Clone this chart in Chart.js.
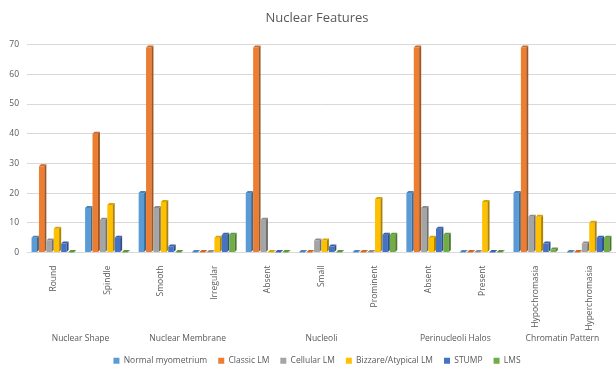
<!DOCTYPE html>
<html>
<head>
<meta charset="utf-8">
<script src="https://cdn.jsdelivr.net/npm/chart.js@4/dist/chart.umd.min.js"></script>
<style>
  html, body { margin: 0; padding: 0; background: #fff; }
  #wrap { width: 616px; height: 369px; }
</style>
</head>
<body>
<div id="wrap"><canvas id="nuclearChart"></canvas></div>
<script>
// Nuclear Features - grouped bars, Excel 3D column look

const categories = ["Round", "Spindle", "Smooth", "Irregular", "Absent", "Small",
  "Prominent", "Absent", "Present", "Hypochromasia", "Hyperchromasia"];
const groupNames = ["Nuclear Shape", "Nuclear Membrane", "Nucleoli", "Perinucleoli Halos", "Chromatin Pattern"];
const groupSizes = [2, 2, 3, 2, 2];

const normalMyometrium = [5, 15, 20, 0, 20, 0, 0, 20, 0, 20, 0];
const classicLM        = [29, 40, 69, 0, 69, 0, 0, 69, 0, 69, 0];
const cellularLM       = [4, 11, 15, 0, 11, 4, 0, 15, 0, 12, 3];
const bizarreLM        = [8, 16, 17, 5, 0, 4, 18, 5, 17, 12, 10];
const stump            = [3, 5, 2, 6, 0, 2, 6, 8, 0, 3, 5];
const lms              = [0, 0, 0, 6, 0, 0, 6, 6, 0, 1, 5];

const seriesNames = ["Normal myometrium", "Classic LM", "Cellular LM", "Bizzare/Atypical LM", "STUMP", "LMS"];
const seriesData = [normalMyometrium, classicLM, cellularLM, bizarreLM, stump, lms];
const colors = ["#5B9BD5", "#ED7D31", "#A5A5A5", "#FFC000", "#4472C4", "#70AD47"];

const textGray = "#595959";
const fontFamily = "'Open Sans', 'DejaVu Sans', sans-serif";

function shade(hex, f) {
  const n = parseInt(hex.slice(1), 16);
  const r = Math.round(((n >> 16) & 255) * f);
  const g = Math.round(((n >> 8) & 255) * f);
  const b = Math.round((n & 255) * f);
  return `rgb(${r},${g},${b})`;
}

// draws bars with a small side and top face, category by category
const bars3d = {
  id: "bars3d",
  beforeDatasetsDraw(chart) {
    const ctx = chart.ctx;
    const dep = 2;
    ctx.save();
    for (let i = 0; i < categories.length; i++) {
      chart.data.datasets.forEach((ds, d) => {
        const el = chart.getDatasetMeta(d).data[i];
        if (!el) return;
        const p = el.getProps(["x", "y", "base", "width"], true);
        const left = p.x - p.width / 2;
        const fw = p.width - dep;
        const top = Math.min(p.y, p.base - 0.5);
        // front
        ctx.fillStyle = ds.backgroundColor;
        ctx.fillRect(left, top, fw, p.base - top);
        // side
        ctx.fillStyle = shade(ds.backgroundColor, 0.68);
        ctx.beginPath();
        ctx.moveTo(left + fw, top);
        ctx.lineTo(left + fw + dep, top - dep);
        ctx.lineTo(left + fw + dep, p.base - dep);
        ctx.lineTo(left + fw, p.base);
        ctx.closePath();
        ctx.fill();
        // top
        ctx.fillStyle = shade(ds.backgroundColor, 0.85);
        ctx.beginPath();
        ctx.moveTo(left, top);
        ctx.lineTo(left + dep, top - dep);
        ctx.lineTo(left + fw + dep, top - dep);
        ctx.lineTo(left + fw, top);
        ctx.closePath();
        ctx.fill();
      });
    }
    ctx.restore();
    return false;
  }
};

// group labels under the rotated category labels
const groupLabels = {
  id: "groupLabels",
  afterDraw(chart) {
    const xs = chart.scales.x;
    const ctx = chart.ctx;
    ctx.save();
    ctx.font = "8.5px " + fontFamily;
    ctx.fillStyle = textGray;
    ctx.textAlign = "center";
    ctx.textBaseline = "middle";
    let start = 0;
    groupNames.forEach((name, g) => {
      const end = start + groupSizes[g] - 1;
      const cx = (xs.getPixelForValue(start) + xs.getPixelForValue(end)) / 2;
      ctx.fillText(name, cx, xs.bottom - 7);
      start = end + 1;
    });
    ctx.restore();
  }
};

// title and legend sit centred over the plot, not the canvas
const centreOnPlot = {
  id: "centreOnPlot",
  afterLayout(chart) {
    const shift = 9;
    [chart.titleBlock, chart.legend].forEach(box => {
      if (!box) return;
      box.left += shift;
      box.right += shift;
    });
  }
};

const ctx = document.getElementById("nuclearChart").getContext("2d");

new Chart(ctx, {
  type: "bar",
  data: {
    labels: categories,
    datasets: seriesData.map((vals, k) => ({
      label: seriesNames[k],
      data: vals,
      backgroundColor: colors[k],
      borderWidth: 0,
      categoryPercentage: 0.83,
      barPercentage: 1
    }))
  },
  options: {
    responsive: true,
    maintainAspectRatio: false,
    animation: false,
    layout: { padding: { top: 2, left: 0, right: 0, bottom: -6 } },
    plugins: {
      title: {
        display: true,
        text: "Nuclear Features",
        color: textGray,
        font: { family: fontFamily, size: 13, weight: "normal" },
        padding: { top: 8, bottom: 19 }
      },
      legend: {
        position: "bottom",
        labels: {
          color: textGray,
          font: { family: fontFamily, size: 8.5 },
          boxWidth: 6,
          boxHeight: 6,
          padding: 11
        }
      },
      tooltip: { enabled: false }
    },
    scales: {
      x: {
        grid: { display: false },
        border: { display: false },
        ticks: {
          color: textGray,
          font: { family: fontFamily, size: 8.5 },
          minRotation: 90,
          maxRotation: 90,
          autoSkip: false,
          padding: 5
        },
        afterFit(scale) { scale.height = 93; }
      },
      y: {
        min: 0,
        max: 70,
        ticks: {
          stepSize: 10,
          color: textGray,
          font: { family: fontFamily, size: 8.5 },
          padding: 8
        },
        grid: { color: "#d9d9d9", drawTicks: false },
        border: { display: false },
        afterFit(scale) { scale.width = 27; }
      }
    }
  },
  plugins: [bars3d, groupLabels, centreOnPlot]
});
</script>
</body>
</html>
